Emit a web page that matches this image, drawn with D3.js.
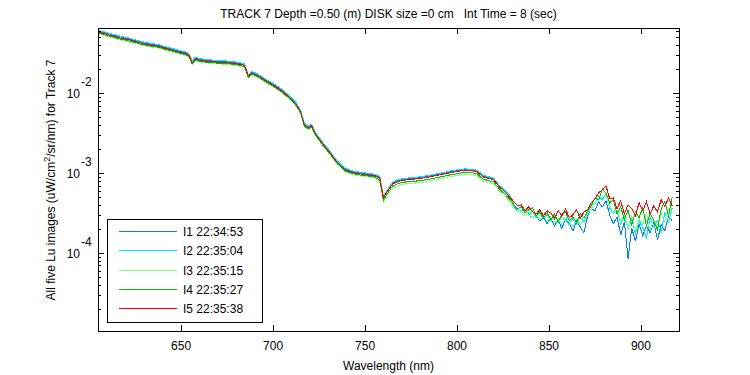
<!DOCTYPE html>
<html><head><meta charset="utf-8">
<script src="https://cdn.jsdelivr.net/npm/d3@7"></script>
<style>
body{margin:0;background:#fff}
svg{display:block}
text{font-family:"Liberation Sans",Arial,Helvetica,sans-serif;font-size:12px;fill:#000}
</style>
</head><body>
<svg id="chart" width="750" height="375"></svg>
<script>
// ---- data (Lu values in units of 1e-4 uW/cm^2/sr/nm) ----
const wavelength = [605,609,613,617,621,625,629,633,637,641,645,649,653,654.5,656,657.5,661,665,669,673,677,681,684.5,686.5,688.5,692,696,700,704,708,712,715,717,719,721,723,727,731,735,739,743,747,751,755,758,760,762,765,768,772,776,780,784,788,792,796,800,804,808,811,814,817,820,823,826,829,
831,833,835,837,839,841,843,845,847,849,851,853,855,857,859,861,863,865,867,869,871,873,875,877,879,881,883,885,887,889,891,893,895,897,899,901,903,905,907,909,911,913,915,917];

const I1 = [600,568,536,506,484,457,432,414,402,379,358,338,319,302,246,276,265,258,253,250,246,239,230,169,184,169,147,131,113,95.3,77.9,60.2,41.4,37.9,40.2,31.9,23.9,18.4,13.9,11.3,10.5,10.1,9.82,9.53,8.99,5.06,6.02,7.57,8.14,8.49,8.61,8.87,9.13,9.53,9.95,10.4,10.8,11.1,11.0,10.7,9.27,8.87,8.49,6.95,6.02,5.06,
3.79,3.28,3.48,2.93,3.19,2.69,3.01,2.54,2.84,2.33,2.76,2.20,2.61,2.01,2.69,2.33,1.90,2.54,2.13,1.80,2.93,3.58,3.38,4.38,3.79,4.51,3.01,2.33,2.84,1.70,2.46,0.85,2.07,1.40,2.33,1.65,2.20,1.80,2.46,1.47,2.26,1.90,2.93,2.54];

const I2 = [612,579,546,516,494,466,440,422,410,386,365,344,326,308,251,281,270,263,258,255,251,244,234,172,188,172,150,133,116,97.1,79.4,61.3,42.2,38.6,41.0,32.6,24.4,18.8,14.2,11.6,10.7,10.3,10.0,9.71,9.17,5.16,6.13,7.72,8.30,8.65,8.78,9.04,9.30,9.71,10.1,10.6,11.0,11.3,11.2,10.9,9.45,9.04,8.65,7.09,6.13,5.16,
3.90,3.48,3.28,3.58,3.01,3.38,2.76,3.19,2.69,3.01,2.54,2.93,2.39,2.84,2.61,2.26,2.76,2.33,2.84,2.46,3.19,4.02,4.13,5.20,4.64,5.51,3.68,3.10,3.48,2.33,2.93,2.01,2.69,1.74,2.54,2.07,1.56,2.76,2.13,2.54,1.85,3.19,2.46,3.68];

const I3 = [554,523,494,466,447,422,398,382,371,350,331,312,295,278,227,255,244,238,234,231,227,220,212,156,170,156,136,121,105,87.9,71.8,55.5,38.2,35.0,37.1,29.5,22.0,17.0,12.8,10.5,9.69,9.31,9.05,8.79,7.77,4.37,5.20,6.54,7.03,7.33,7.44,7.66,7.89,8.23,8.60,8.99,9.35,9.61,9.52,9.26,8.01,7.66,7.33,6.01,5.20,4.37,
3.68,3.28,3.48,2.93,3.28,2.69,3.10,2.61,2.93,2.46,2.84,2.33,2.69,2.20,2.76,2.54,2.13,2.69,2.26,2.61,3.10,3.58,4.26,4.77,5.05,5.35,3.90,3.28,3.79,2.46,3.10,2.07,2.93,1.85,2.69,2.26,3.01,1.90,2.61,2.20,3.10,2.46,3.58,3.19];

const I4 = [566,534,504,476,456,431,406,390,378,357,338,318,301,284,232,260,249,243,239,236,232,225,216,159,174,159,139,123,107,89.7,73.3,56.6,39.0,35.7,37.8,30.1,22.5,17.4,13.1,10.7,9.89,9.51,9.24,8.97,8.21,4.62,5.49,6.91,7.43,7.75,7.86,8.09,8.33,8.70,9.08,9.49,9.87,10.2,10.1,9.78,8.46,8.09,7.75,6.35,5.49,4.62,
4.02,3.58,3.79,3.19,3.48,3.68,2.93,3.28,2.76,3.19,2.61,3.10,2.46,3.01,3.28,2.54,2.84,2.39,3.10,2.76,3.38,3.90,4.91,4.64,6.36,5.67,4.26,4.64,3.10,3.79,2.61,3.48,2.26,3.28,2.76,3.68,2.20,3.19,2.54,1.96,3.58,4.38,2.93,5.05];

const I5 = [583,551,520,491,470,444,419,402,390,368,348,328,310,293,239,268,257,250,246,243,239,232,223,164,179,164,143,127,110,92.5,75.6,58.4,40.2,36.8,39.0,31.0,23.2,17.9,13.5,11.0,10.2,9.8,9.53,9.25,8.73,4.91,5.84,7.35,7.9,8.24,8.36,8.61,8.86,9.25,9.66,10.1,10.5,10.8,10.7,10.4,9.0,8.61,8.24,6.75,5.84,4.91,
4.38,3.90,4.02,3.38,3.79,3.28,3.10,3.48,2.93,3.38,3.19,2.69,3.38,2.93,3.58,2.76,3.01,3.48,2.69,3.28,3.48,4.26,4.77,5.67,6.18,6.94,4.77,4.91,3.58,4.51,3.10,4.02,3.58,2.93,4.26,3.38,4.38,3.10,3.90,3.28,4.64,3.79,4.91,3.90];

const UNIT = 1e-4;
const seriesNames = ["I1 22:34:53","I2 22:35:04","I3 22:35:15","I4 22:35:27","I5 22:35:38"];
const seriesColors = ["#0080ff","#00e6ff","#80ff80","#00c000","#ff0000"];
const xTickValues = [650,700,750,800,850,900];
const yDecades = [-5,-4,-3,-2];
const titleText = "TRACK 7 Depth =0.50 (m) DISK size =0 cm   Int Time = 8 (sec)";
const xLabel = "Wavelength (nm)";

// ---- chart ----
const svg = d3.select("#chart");
const L = 98, R = 679, T = 28, B = 331;
const x = d3.scaleLinear().domain([604.8, 920.7]).range([L, R]);
const y = d3.scaleLog().domain([1.059e-5, 0.0655]).range([B, T]);

const allSeries = [I1, I2, I3, I4, I5];
allSeries.forEach((s, i) => { if (s.length !== wavelength.length) console.error("length mismatch", i, s.length); });

svg.append("defs").append("clipPath").attr("id","pc")
  .append("rect").attr("x", L).attr("y", T).attr("width", R - L).attr("height", B - T);

const line = d3.line().x(d => x(d[0])).y(d => y(d[1] * UNIT));
const g = svg.append("g").attr("clip-path","url(#pc)");
allSeries.forEach((s, i) => {
  g.append("path")
    .datum(wavelength.map((w, k) => [w, s[k]]))
    .attr("d", line)
    .attr("fill","none")
    .attr("stroke", seriesColors[i])
    .attr("stroke-width", 1)
    .attr("shape-rendering","crispEdges");
});

// box
svg.append("rect").attr("x", L + 0.5).attr("y", T + 0.5).attr("width", R - L).attr("height", B - T)
  .attr("fill","none").attr("stroke","#000").attr("stroke-width",1).attr("shape-rendering","crispEdges");

const ticks = svg.append("g").attr("stroke","#000").attr("stroke-width",1).attr("shape-rendering","crispEdges");
xTickValues.forEach(v => {
  const px = Math.round(x(v)) + 0.5;
  ticks.append("line").attr("x1",px).attr("x2",px).attr("y1",B).attr("y2",B - 6);
  ticks.append("line").attr("x1",px).attr("x2",px).attr("y1",T).attr("y2",T + 6);
  svg.append("text").attr("x", x(v)).attr("y", 350).attr("text-anchor","middle").text(v);
});
const [ymin, ymax] = y.domain();
yDecades.forEach(d => {
  for (let k = 1; k <= 9; k++) {
    const v = k * Math.pow(10, d);
    if (v < ymin || v > ymax) continue;
    const py = Math.round(y(v)) + 0.5;
    const len = k === 1 ? 6 : 3;
    ticks.append("line").attr("x1",L).attr("x2",L + len).attr("y1",py).attr("y2",py);
    ticks.append("line").attr("x1",R).attr("x2",R - len).attr("y1",py).attr("y2",py);
    if (k === 1) {
      const yy = y(v);
      svg.append("text").attr("x", 80).attr("y", yy + 4.5).attr("text-anchor","end").text("10");
      svg.append("text").attr("x", 81).attr("y", yy - 7).text(String(d));
    }
  }
});

// title & labels
svg.append("text").attr("x", (L + R) / 2).attr("y", 17.5).attr("text-anchor","middle")
  .style("white-space","pre").attr("xml:space","preserve").text(titleText);
svg.append("text").attr("x", (L + R) / 2).attr("y", 369.5).attr("text-anchor","middle").text(xLabel);
const yl = svg.append("text").attr("transform","translate(55,180) rotate(-90)").attr("text-anchor","middle");
yl.append("tspan").text("All five Lu images (uW/cm");
yl.append("tspan").attr("dy",-5).style("font-size","9px").text("2");
yl.append("tspan").attr("dy",5).text("/sr/nm) for Track 7");

// legend
const lg = svg.append("g");
lg.append("rect").attr("x",107.5).attr("y",219.5).attr("width",155).attr("height",103)
  .attr("fill","#fff").attr("stroke","#000").attr("shape-rendering","crispEdges");
const rowY = [231.5, 250.5, 270.5, 289.5, 308.5];
seriesNames.forEach((n, i) => {
  lg.append("line").attr("x1",119).attr("x2",177).attr("y1",rowY[i]).attr("y2",rowY[i])
    .attr("stroke", seriesColors[i]).attr("stroke-width",1).attr("shape-rendering","crispEdges");
  lg.append("text").attr("x",183).attr("y",rowY[i] + 4.5).text(n);
});
</script>
</body></html>
